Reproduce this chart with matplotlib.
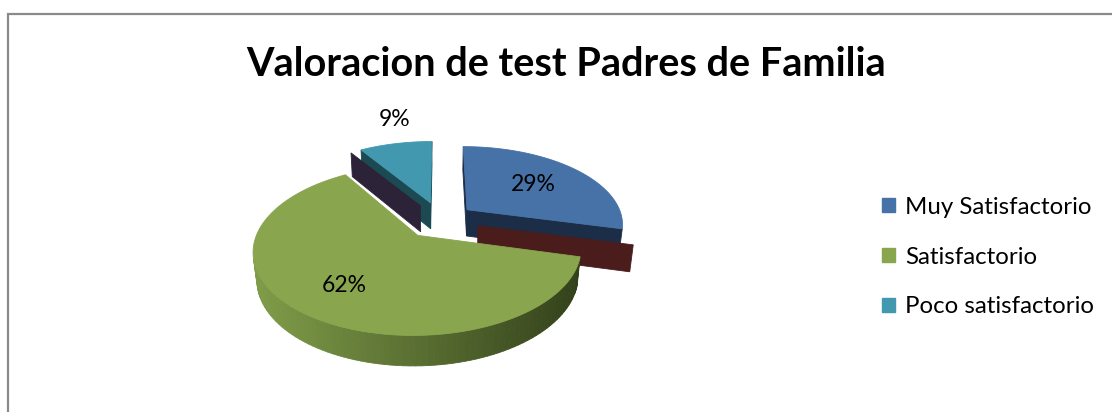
import numpy as np
import matplotlib
matplotlib.use("Agg")
import matplotlib.pyplot as plt
from matplotlib.patches import Polygon, Patch
from matplotlib.lines import Line2D
from matplotlib.colors import to_rgb

# ---------------- data ----------------
categories = ["Muy Satisfactorio", "Satisfactorio", "Poco satisfactorio"]
values = [29, 62, 9]
pct_labels = ["29%", "62%", "9%"]
title = "Valoracion de test Padres de Familia"

# ---------------- style ----------------
top_colors = ["#4672a8", "#89a54e", "#4198af"]
cut_colors = ["#1b2d47", "#3a4a20", "#1c4a53"]
ghost_colors = ["#4a1c1c", None, "#2c2339"]
side_left = ["#3a5f8c", "#809d49", "#2f7485"]
side_right = ["#223a58", "#2f3c18", "#1f5560"]
explode = [0.22, 0.24, 0.24]
FONT = ["Lato", "DejaVu Sans"]

W, H = 1112, 412
fig = plt.figure(figsize=(W / 100, H / 100), dpi=100)
ax = fig.add_axes([0, 0, 1, 1])
ax.set_xlim(0, W)
ax.set_ylim(H, 0)
ax.axis("off")

# camera / projection parameters (pixel space)
X0, Y0 = 440.5, 219.9
S = 156.0
theta = np.radians(29.6)
sn, cs = np.sin(theta), np.cos(theta)
P = 0.196
T = 0.2
CAM = np.array([0.0, -cs / P, sn / P])


def proj(X, Y, Z):
    X = np.asarray(X, float); Y = np.asarray(Y, float); Z = np.asarray(Z, float)
    w = Y * cs - Z * sn
    v = Y * sn + Z * cs
    d = 1 + P * w
    return X0 + S * X / d, Y0 - S * v / d


def visible(normal, point):
    return np.dot(normal, CAM - np.asarray(point)) > 0


def lerp_color(c1, c2, t):
    a, b = np.array(to_rgb(c1)), np.array(to_rgb(c2))
    return tuple(a + (b - a) * np.clip(t, 0, 1))


# slice angles: start at 12 o'clock, clockwise
total = float(sum(values))
angles = []
start = 90.0
for v in values:
    span = 360.0 * v / total
    angles.append((start - span, start))
    start -= span

# painter's order: back slices first
order = sorted(range(len(values)),
               key=lambda i: -np.sin(np.radians(sum(angles[i]) / 2)))
ghost_shift = {0: (11, 16), 2: (-10, 3)}

for i in order:
    lo, hi = angles[i]
    mid = np.radians((lo + hi) / 2)
    ox, oy = explode[i] * np.cos(mid), explode[i] * np.sin(mid)
    a = np.radians(np.linspace(lo, hi, 120))
    rx, ry = ox + np.cos(a), oy + np.sin(a)

    # outer rim side with horizontal gradient
    for j in range(len(a) - 1):
        am = (a[j] + a[j + 1]) / 2
        n = np.array([np.cos(am), np.sin(am), 0])
        pm = np.array([ox + np.cos(am), oy + np.sin(am), -T / 2])
        if not visible(n, pm):
            continue
        xs, ys = proj([rx[j], rx[j + 1], rx[j + 1], rx[j]],
                      [ry[j], ry[j + 1], ry[j + 1], ry[j]],
                      [0, 0, -T, -T])
        tcol = (xs.mean() - (X0 - S * 1.2)) / (S * 2.2)
        col = lerp_color(side_left[i], side_right[i], tcol)
        ax.add_patch(Polygon(np.c_[xs, ys], closed=True, fc=col, ec=col, lw=0.6))

    # cut faces
    faces = []
    for ang, sgn in ((lo, -1), (hi, 1)):
        r = np.radians(ang)
        n = np.array([-np.sin(r), np.cos(r), 0]) * sgn
        ex, ey = ox + np.cos(r), oy + np.sin(r)
        pm = np.array([(ox + ex) / 2, (oy + ey) / 2, -T / 2])
        if not visible(n, pm):
            continue
        xs, ys = proj([ox, ex, ex, ox], [oy, ey, ey, oy], [0, 0, -T, -T])
        area = 0.5 * abs(np.dot(xs, np.roll(ys, 1)) - np.dot(ys, np.roll(xs, 1)))
        faces.append((area, xs, ys))
        ax.add_patch(Polygon(np.c_[xs, ys], closed=True, fc=cut_colors[i],
                             ec=cut_colors[i], lw=0.6))
    # Excel's extra shaded face beside the main cut face
    if ghost_colors[i] is not None and faces:
        area, xs, ys = max(faces, key=lambda f: f[0])
        dx, dy = ghost_shift[i]
        ax.add_patch(Polygon(np.c_[xs + dx, ys + dy], closed=True,
                             fc=ghost_colors[i], ec=ghost_colors[i], lw=0.6))

    # top face
    xs, ys = proj(np.r_[ox, rx], np.r_[oy, ry], np.zeros(len(rx) + 1))
    ax.add_patch(Polygon(np.c_[xs, ys], closed=True, fc=top_colors[i],
                         ec=top_colors[i], lw=0.6))

# data labels
label_pos = [(0.6, 0.0), (0.68, 0.0), (1.0, 0.2)]
for i, (lo, hi) in enumerate(angles):
    mid = np.radians((lo + hi) / 2)
    r, z = label_pos[i]
    X = (explode[i] + r) * np.cos(mid)
    Y = (explode[i] + r) * np.sin(mid)
    lx, ly = proj(X, Y, z)
    ax.text(float(lx), float(ly), pct_labels[i], ha="center", va="center",
            fontsize=16.5, family=FONT, color="black")

# title
ax.text(566, 64, title, ha="center", va="center", fontsize=28.5,
        fontweight="bold", family=FONT, color="black")

# legend
handles = [Patch(facecolor=c, edgecolor=c) for c in top_colors]
leg = ax.legend(handles, categories, loc="center left",
                bbox_to_anchor=(882 / W, 1 - 257 / H), frameon=False,
                prop={"family": FONT, "size": 17.3}, handlelength=0.55,
                handleheight=0.55, handletextpad=0.4, labelspacing=1.2,
                borderaxespad=0, borderpad=0)

# chart frame (continues past the right and bottom edges)
ax.add_line(Line2D([7.5, 7.5, W + 5], [H + 5, 13.5, 13.5], color="#8a8a8a",
                   lw=1.6, solid_joinstyle="miter"))

fig.savefig("out.png", dpi=100)
